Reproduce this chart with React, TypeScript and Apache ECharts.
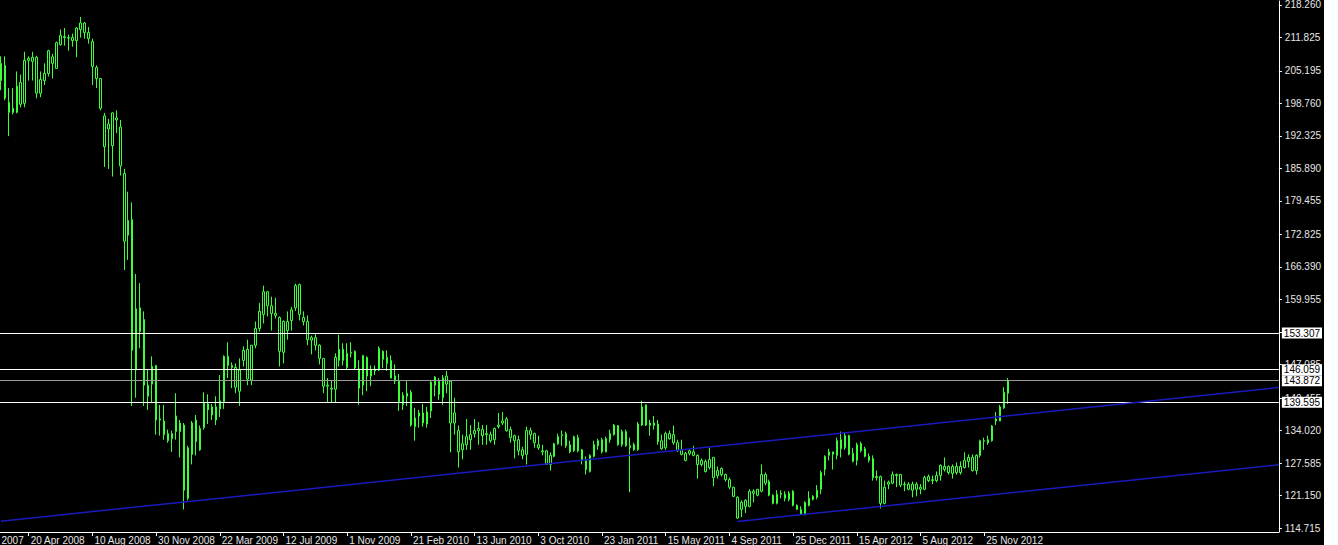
import React, { useEffect, useRef } from "react";
import * as echarts from "echarts";

// Weekly candles [open, close, low, high], first bar = week of 2 Mar 2008
const ohlc2008 = [
  [203.3, 206.7, 201.4, 208.1], [206.3, 199.8, 199.4, 208.1], [199.0, 197.0, 192.3, 201.8], [197.0, 197.8, 196.6, 201.8],
  [197.0, 202.2, 196.8, 205.1], [202.9, 198.6, 198.0, 204.5], [198.8, 207.3, 198.0, 209.0], [207.3, 207.7, 203.3, 208.1],
  [207.9, 207.1, 203.3, 209.0], [207.9, 200.8, 199.8, 208.2], [200.8, 203.5, 200.0, 205.1], [203.3, 204.7, 202.4, 206.7],
  [204.7, 209.2, 204.1, 209.4], [208.0, 206.7, 203.7, 208.6], [205.7, 210.8, 205.7, 211.0], [210.4, 212.2, 210.2, 213.4],
  [212.0, 211.8, 210.2, 213.7], [211.8, 211.7, 209.2, 212.4], [211.8, 211.2, 210.0, 212.6], [211.2, 213.7, 207.9, 213.9],
  [213.4, 214.7, 211.8, 215.9], [214.7, 212.8, 211.6, 214.9], [212.8, 211.6, 210.6, 213.9], [211.0, 206.1, 202.4, 211.6],
  [205.9, 203.7, 201.8, 206.3], [203.7, 197.8, 197.4, 203.7], [196.3, 190.2, 186.2, 196.9], [193.7, 194.7, 185.8, 195.7],
  [196.9, 190.4, 184.3, 197.0], [195.5, 195.9, 192.9, 197.4], [194.1, 186.4, 184.5, 195.5], [184.9, 171.5, 165.8, 185.8],
  [172.7, 175.6, 167.8, 181.3], [175.8, 149.9, 138.9, 179.2], [146.0, 158.1, 140.5, 165.0], [158.3, 153.6, 150.3, 163.2],
  [156.0, 143.0, 138.9, 157.6], [143.0, 140.8, 138.1, 146.0], [143.2, 146.7, 139.5, 148.7], [146.9, 136.1, 133.2, 146.9],
  [136.1, 136.3, 133.0, 139.1], [135.9, 133.2, 132.2, 139.1], [133.4, 132.0, 131.6, 134.2], [132.4, 133.4, 129.8, 134.0],
];
const ohlc2009 = [
  [133.8, 136.9, 132.2, 141.4], [135.5, 133.8, 128.7, 136.1], [135.1, 122.2, 118.4, 135.5], [120.6, 130.6, 120.2, 131.0],
  [129.3, 135.5, 127.3, 135.9], [136.1, 131.8, 129.1, 137.1], [130.2, 134.4, 130.0, 135.0], [134.6, 139.5, 134.2, 141.6],
  [139.3, 138.1, 135.3, 141.2], [138.7, 137.1, 136.1, 139.3], [136.1, 138.7, 135.1, 140.8], [139.9, 138.3, 136.7, 145.0],
  [139.7, 148.7, 138.3, 148.9], [148.7, 146.9, 144.4, 151.5], [146.9, 146.5, 142.4, 147.5], [146.5, 142.6, 141.4, 147.3],
  [141.8, 146.0, 138.9, 148.3], [147.9, 149.9, 146.7, 150.7], [150.1, 144.2, 143.0, 152.0], [144.0, 150.9, 143.0, 150.9],
  [150.9, 154.2, 150.3, 155.6], [154.2, 157.6, 153.6, 159.3], [157.0, 161.5, 155.2, 162.7], [161.5, 158.7, 156.6, 161.5],
  [158.7, 157.2, 153.8, 160.5], [157.2, 156.8, 156.2, 160.3], [156.4, 149.7, 146.7, 156.6], [149.5, 155.6, 147.3, 155.8],
  [153.8, 155.6, 152.0, 157.6], [155.8, 157.9, 153.8, 158.5], [158.3, 162.7, 157.7, 163.1], [162.9, 157.0, 155.8, 163.1],
  [156.4, 155.6, 154.8, 157.6], [155.6, 152.0, 150.9, 156.8], [152.4, 151.9, 149.1, 152.8], [152.4, 150.9, 149.9, 153.2],
  [150.9, 148.3, 147.1, 151.1], [148.3, 142.8, 141.4, 148.3], [142.8, 143.0, 139.5, 144.4], [142.4, 142.2, 139.5, 144.0],
  [142.2, 148.5, 139.5, 149.3], [147.9, 150.1, 146.7, 153.0], [150.1, 147.9, 146.9, 151.3], [149.3, 146.5, 146.2, 151.3],
  [149.5, 149.3, 148.5, 151.5], [149.7, 146.4, 146.0, 149.9], [146.2, 142.4, 139.1, 147.9], [143.0, 148.9, 141.0, 148.9],
  [148.5, 144.8, 141.8, 148.7], [144.8, 146.0, 142.8, 146.9], [146.2, 145.8, 145.0, 146.9], [146.0, 150.3, 145.8, 150.7],
];
const ohlc2010 = [
  [149.7, 148.1, 146.4, 149.9], [148.5, 147.3, 145.8, 149.9], [147.9, 144.4, 144.4, 148.9], [144.8, 143.8, 143.2, 147.1],
  [143.8, 139.7, 137.9, 145.2], [141.0, 139.1, 138.1, 141.6], [140.8, 141.4, 138.9, 143.8], [141.6, 135.1, 134.8, 142.0],
  [134.8, 136.5, 132.0, 138.5], [136.9, 137.5, 134.6, 138.1], [137.5, 135.5, 134.8, 139.3], [135.3, 137.7, 134.6, 138.7],
  [137.9, 143.6, 136.5, 143.8], [144.6, 143.0, 140.8, 144.8], [143.8, 141.2, 140.1, 144.4], [140.5, 144.4, 139.1, 145.0],
  [144.8, 143.2, 141.4, 145.8], [143.8, 135.5, 129.7, 144.0], [135.5, 137.5, 133.2, 140.5], [134.0, 129.8, 126.7, 135.0],
  [130.2, 131.4, 128.3, 133.2], [131.2, 132.8, 130.2, 136.3], [132.2, 133.2, 130.2, 135.1], [133.4, 134.0, 132.6, 136.3],
  [134.0, 134.4, 131.2, 135.7], [134.2, 133.0, 131.2, 135.1], [133.4, 133.2, 131.2, 135.1], [133.2, 132.0, 131.6, 133.8],
  [132.2, 134.4, 131.2, 134.6], [134.8, 135.1, 134.4, 137.5], [135.5, 135.9, 135.1, 137.7], [136.3, 134.0, 133.8, 136.7],
  [134.2, 132.6, 131.6, 134.8], [133.0, 132.0, 128.5, 133.2], [132.2, 130.0, 129.1, 133.0], [130.2, 129.1, 128.3, 130.8],
  [129.3, 134.0, 127.3, 134.8], [134.0, 133.2, 132.2, 134.6], [133.4, 131.6, 130.6, 133.6], [131.2, 130.6, 130.2, 133.0],
  [130.0, 129.8, 129.1, 131.2], [130.0, 127.3, 127.3, 130.2], [127.3, 129.1, 126.1, 129.7], [128.9, 131.4, 128.7, 131.6],
  [131.4, 132.8, 131.2, 133.4], [133.0, 133.2, 131.0, 134.0], [133.4, 131.0, 130.6, 133.8], [131.2, 129.8, 129.5, 132.0],
  [130.0, 132.8, 129.8, 133.0], [132.6, 130.0, 129.7, 133.2], [130.2, 128.1, 127.3, 130.4], [128.1, 126.3, 125.3, 128.9],
];
const ohlc2011 = [
  [125.9, 129.1, 125.7, 129.3], [128.9, 131.2, 128.7, 132.0], [131.0, 132.0, 130.2, 132.4], [132.2, 129.8, 129.5, 132.6],
  [129.8, 132.4, 129.7, 132.8], [132.2, 133.4, 131.6, 134.2], [133.2, 135.1, 133.0, 135.3], [135.0, 131.2, 131.0, 135.1],
  [131.2, 133.8, 130.8, 134.2], [133.8, 131.0, 130.8, 134.2], [131.0, 130.6, 121.8, 132.6], [131.2, 130.2, 130.0, 131.6],
  [130.2, 135.3, 130.0, 135.7], [135.1, 138.7, 134.9, 139.9], [139.1, 135.1, 134.9, 139.1], [135.0, 135.5, 133.0, 136.1],
  [135.5, 135.0, 134.2, 136.9], [135.3, 131.8, 131.2, 136.1], [132.0, 130.4, 130.2, 133.2], [130.6, 133.4, 130.2, 133.8],
  [133.4, 132.4, 132.2, 134.0], [133.2, 131.6, 131.2, 135.0], [131.6, 130.0, 129.8, 132.2], [130.2, 129.3, 129.1, 132.2],
  [129.5, 128.1, 127.9, 129.8], [129.5, 130.0, 129.1, 130.4], [129.8, 129.1, 128.9, 131.0], [129.1, 127.3, 124.5, 129.3],
  [127.3, 128.1, 126.9, 128.5], [127.9, 125.9, 125.7, 128.3], [126.7, 128.3, 126.3, 130.6], [128.7, 124.7, 123.0, 128.7],
  [125.1, 126.1, 124.5, 126.9], [126.5, 125.3, 124.9, 126.7], [125.3, 124.3, 123.9, 125.5], [124.3, 122.8, 122.4, 124.7],
  [122.8, 121.0, 120.8, 122.8], [120.8, 116.7, 116.5, 121.0], [118.4, 119.8, 116.9, 120.2], [120.2, 119.0, 117.7, 120.4],
  [119.0, 122.0, 118.8, 122.4], [122.0, 121.6, 119.8, 122.4], [122.4, 121.2, 121.0, 122.4], [122.0, 125.3, 121.8, 127.3],
  [125.3, 123.6, 123.2, 125.7], [123.9, 121.2, 121.0, 124.3], [121.2, 119.6, 119.4, 121.4], [119.6, 121.4, 119.4, 122.2],
  [121.4, 121.6, 120.6, 122.2], [121.4, 120.6, 120.0, 122.0], [120.4, 121.6, 120.0, 122.0], [122.0, 119.2, 119.0, 122.2],
];
const ohlc2012 = [
  [119.2, 118.4, 118.3, 119.4], [118.4, 117.5, 117.3, 119.0], [117.3, 119.8, 117.3, 120.0], [119.2, 120.6, 119.0, 122.0],
  [120.4, 121.0, 120.2, 121.2], [120.8, 122.2, 120.4, 123.2], [122.4, 125.7, 121.4, 126.1], [126.3, 128.9, 125.1, 129.1],
  [129.1, 129.8, 128.1, 130.4], [129.8, 129.3, 126.3, 129.8], [129.1, 132.0, 128.3, 132.6], [132.2, 130.4, 128.7, 133.8],
  [130.6, 133.0, 130.2, 133.6], [133.0, 129.3, 129.1, 133.2], [129.5, 127.9, 127.7, 130.6], [128.1, 131.2, 127.1, 131.6],
  [131.4, 130.0, 129.7, 131.8], [130.4, 128.9, 128.7, 130.8], [128.9, 128.1, 127.7, 129.5], [128.5, 124.7, 124.1, 129.1],
  [124.7, 124.9, 124.1, 126.1], [124.9, 119.6, 118.6, 125.1], [119.6, 122.8, 119.4, 124.1], [123.4, 123.8, 122.4, 124.1],
  [123.6, 125.3, 123.4, 125.9], [125.3, 125.1, 122.8, 125.5], [125.3, 123.2, 122.8, 125.3], [123.4, 123.3, 122.0, 123.9],
  [123.4, 122.4, 122.2, 123.8], [122.2, 123.4, 120.8, 123.9], [123.4, 122.4, 121.0, 123.8], [122.4, 122.8, 121.4, 123.4],
  [122.4, 124.7, 122.2, 125.1], [124.1, 124.9, 123.8, 125.3], [124.3, 124.1, 123.4, 125.1], [124.1, 125.1, 123.8, 125.9],
  [125.1, 127.1, 124.1, 127.3], [126.9, 126.3, 125.9, 128.7], [125.7, 126.9, 125.3, 127.1], [126.9, 125.5, 124.5, 127.3],
  [125.7, 126.9, 125.3, 127.7], [126.9, 125.7, 125.3, 127.9], [126.7, 128.1, 126.5, 129.7], [127.9, 128.7, 126.7, 129.3],
  [128.7, 126.1, 125.9, 129.3], [126.1, 129.1, 125.3, 129.3], [129.1, 132.0, 128.7, 132.2], [132.0, 131.9, 130.2, 132.6],
  [131.6, 132.2, 131.2, 133.0], [132.0, 134.9, 131.8, 135.1], [135.9, 136.3, 135.1, 137.7], [135.9, 138.7, 135.9, 139.1],
  [138.5, 141.6, 138.3, 142.6],
];
const ohlc2013 = [[141.4, 143.872, 139.3, 144.4]];

// Right price scale tick labels
const yTickValues = [
  114.715, 121.15, 127.585, 134.02, 140.455, 147.085, 153.52, 159.955, 166.39,
  172.825, 179.455, 185.89, 192.325, 198.76, 205.195, 211.825, 218.26,
];
const yMin = 113.929;
const yMax = 219.046;

// Horizontal price levels (white) and current price (grey)
const whiteLevels = [153.307, 146.059, 139.595];
const currentPrice = 143.872;

// Trend channel: start bar, start value, value at right edge
const upperTrend = { startBar: 0, startValue: 116.08, endValue: 142.55 };
const lowerTrend = { startBar: 185, startValue: 116.02, endValue: 127.23 };

// First axis date label (off-screen week) and how many weeks precede the first candle
const axisStart = { y: 2007, m: 11, d: 30 };
const weeksBeforeFirstBar = 9;
const totalWeeks = 331;
const labelEvery = 16;

const MONTHS = ["Jan", "Feb", "Mar", "Apr", "May", "Jun", "Jul", "Aug", "Sep", "Oct", "Nov", "Dec"];

export default function App() {
  const ref = useRef<HTMLDivElement>(null);

  useEffect(() => {
    if (!ref.current) return;
    const chart = echarts.init(ref.current, null, { renderer: "svg" });

    const t0 = Date.UTC(axisStart.y, axisStart.m, axisStart.d);
    const categories: string[] = [];
    for (let k = 0; k < totalWeeks; k++) {
      const dt = new Date(t0 + k * 7 * 86400000);
      categories.push(`${dt.getUTCDate()} ${MONTHS[dt.getUTCMonth()]} ${dt.getUTCFullYear()}`);
    }
    const candles = [...ohlc2008, ...ohlc2009, ...ohlc2010, ...ohlc2011, ...ohlc2012, ...ohlc2013];
    const data: any[] = [];
    for (let k = 0; k < weeksBeforeFirstBar; k++) data.push("-");
    candles.forEach((c) => data.push(c));
    const lastBarIndex = weeksBeforeFirstBar + candles.length - 1;

    const green = "#3cff3c";
    const font = "Liberation Sans";
    const lastCat = categories[totalWeeks - 1];
    const showIdx = (i: number) => i % labelEvery === 0 && i <= lastBarIndex;

    const levelLabel = {
      show: true,
      position: "end",
      distance: 3,
      formatter: (p: any) => Number(p.value).toFixed(3),
      backgroundColor: "#ffffff",
      color: "#000000",
      fontFamily: font,
      fontSize: 10,
      padding: [1, 2, 0, 2],
    };

    chart.setOption({
      animation: false,
      backgroundColor: "#000000",
      grid: { left: 0, top: 0, width: 1319, height: 535 },
      xAxis: {
        type: "category",
        data: categories,
        boundaryGap: false,
        axisLine: { show: true, lineStyle: { color: "#ffffff", width: 1 } },
        axisTick: { show: true, interval: showIdx, length: 4, lineStyle: { color: "#ffffff" } },
        axisLabel: {
          interval: showIdx,
          align: "left",
          color: "#e6e6e6",
          fontFamily: font,
          fontSize: 10,
          margin: 3,
          padding: [0, 0, 0, 2],
        },
        splitLine: { show: false },
      },
      yAxis: {
        type: "value",
        position: "right",
        min: yMin,
        max: yMax,
        axisLine: { show: true, lineStyle: { color: "#ffffff", width: 1 } },
        axisTick: { show: true, length: 3, customValues: yTickValues, lineStyle: { color: "#ffffff" } },
        axisLabel: {
          customValues: yTickValues,
          formatter: (v: number) => v.toFixed(3),
          color: "#e6e6e6",
          fontFamily: font,
          fontSize: 10,
          margin: 6,
        },
        splitLine: { show: false },
      },
      series: [
        {
          type: "candlestick",
          data,
          barWidth: 2,
          itemStyle: {
            color: "#000000",
            color0: "#000000",
            borderColor: green,
            borderColor0: green,
            borderWidth: 1,
          },
          markLine: {
            silent: true,
            symbol: ["none", "none"],
            precision: 3,
            animation: false,
            data: [
              ...whiteLevels.map((v) => ({
                yAxis: v,
                lineStyle: { color: "#ffffff", width: 1, type: "solid" },
                label: levelLabel,
              })),
              {
                yAxis: currentPrice,
                lineStyle: { color: "#9a9a9a", width: 1, type: "solid" },
                label: levelLabel,
              },
              [
                {
                  coord: [categories[weeksBeforeFirstBar + upperTrend.startBar], upperTrend.startValue],
                  lineStyle: { color: "#1a1abe", width: 1.5, type: "solid" },
                  label: { show: false },
                },
                { coord: [lastCat, upperTrend.endValue] },
              ],
              [
                {
                  coord: [categories[weeksBeforeFirstBar + lowerTrend.startBar], lowerTrend.startValue],
                  lineStyle: { color: "#1a1abe", width: 1.5, type: "solid" },
                  label: { show: false },
                },
                { coord: [lastCat, lowerTrend.endValue] },
              ],
            ],
          },
        },
      ],
    });

    return () => chart.dispose();
  }, []);

  return (
    <div
      ref={ref}
      style={{ position: "absolute", left: -36, top: 0, width: 1360, height: 545, background: "#000" }}
    />
  );
}
